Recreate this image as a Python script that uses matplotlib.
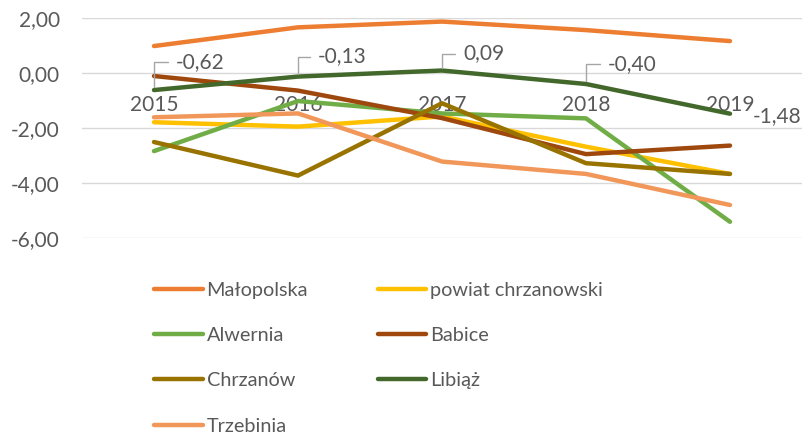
import matplotlib.pyplot as plt
from matplotlib.ticker import FuncFormatter

plt.rcParams['font.family'] = ['Lato', 'DejaVu Sans']

# Categories and series values
years = ['2015', '2016', '2017', '2018', '2019']
malopolska = [0.98, 1.66, 1.87, 1.56, 1.16]
powiat = [-1.79, -1.95, -1.58, -2.68, -3.67]
alwernia = [-2.84, -1.02, -1.47, -1.65, -5.41]
babice = [-0.11, -0.64, -1.64, -2.95, -2.64]
chrzanow = [-2.51, -3.73, -1.10, -3.28, -3.67]
libiaz = [-0.62, -0.13, 0.09, -0.40, -1.48]
trzebinia = [-1.61, -1.47, -3.22, -3.67, -4.80]

names = ['Małopolska', 'powiat chrzanowski', 'Alwernia', 'Babice',
         'Chrzanów', 'Libiąż', 'Trzebinia']
series = [malopolska, powiat, alwernia, babice, chrzanow, libiaz, trzebinia]
colors = ['#ED7D31', '#FFC000', '#70AD47', '#9E480E',
          '#997300', '#43682B', '#F1975A']

txt = '#595959'
fs = 15
lfs = 14.3

fig = plt.figure(figsize=(8.04, 4.36), dpi=100)
ax = fig.add_axes([82 / 804, 1 - 238 / 436, 720 / 804, 220 / 436])

x = list(range(len(years)))
lines = []
for vals, name, c in zip(series, names, colors):
    ln, = ax.plot(x, vals, color=c, lw=3.2, label=name, solid_capstyle='round',
                  clip_on=False)
    lines.append(ln)

ax.set_xlim(-0.5, len(years) - 0.5)
ax.set_ylim(-6, 2)
ax.set_yticks([-6, -4, -2, 0, 2])
ax.yaxis.set_major_formatter(FuncFormatter(lambda v, p: f'{v:.2f}'.replace('.', ',')))
ax.grid(axis='y', color='#D9D9D9', lw=1)
ax.set_axisbelow(True)
for s in ax.spines.values():
    s.set_visible(False)
ax.spines['bottom'].set_position(('data', 0))
ax.set_xticks(x)
ax.set_xticklabels(years)
ax.tick_params(axis='x', length=0, pad=16, labelsize=fs, labelcolor=txt)
ax.tick_params(axis='y', length=0, pad=16, labelsize=fs, labelcolor=txt)

# data labels for Libiąż with leader lines (offsets in pixels)
label_offsets = [(22, 28), (20, 20), (21, 17), (22, 20), (23, -2)]
for i, (v, (dx, dy)) in enumerate(zip(libiaz, label_offsets)):
    lbl = f'{v:.2f}'.replace('.', ',')
    ax.annotate(lbl, xy=(i, v), xytext=(dx, dy), textcoords='offset pixels',
                ha='left', va='center', fontsize=fs, color=txt,
                annotation_clip=False)
    if i < len(libiaz) - 1:
        ax.annotate('', xy=(i, v), xytext=(dx - 8, dy),
                    textcoords='offset pixels',
                    arrowprops=dict(arrowstyle='-', color='#A6A6A6', lw=1,
                                    shrinkA=0, shrinkB=2,
                                    connectionstyle='angle,angleA=0,angleB=90,rad=0'))

# legend filled row by row, like the original
order = [0, 2, 4, 6, 1, 3, 5]
fig.legend([lines[k] for k in order], [names[k] for k in order],
           loc='upper left', bbox_to_anchor=(144 / 804, 1 - 272 / 436),
           ncol=2, frameon=False, fontsize=lfs, handlelength=2.45,
           handletextpad=0.2, columnspacing=3.5, labelspacing=1.42,
           borderpad=0, labelcolor=txt)

fig.savefig('out.png', dpi=100)
